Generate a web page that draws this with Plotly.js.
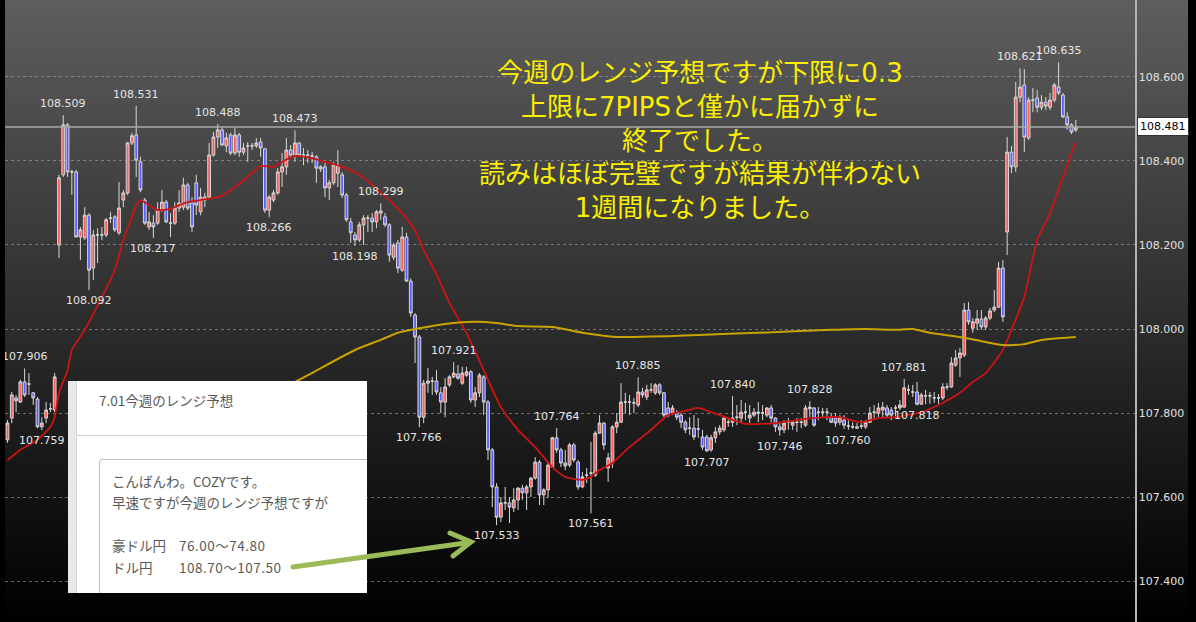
<!DOCTYPE html>
<html>
<head>
<meta charset="utf-8">
<script src="https://cdn.plot.ly/plotly-3.0.1.min.js"></script>
<style>
  html, body { margin:0; padding:0; background:#000; width:1196px; height:622px; overflow:hidden; }
  #bg { position:absolute; left:5px; top:0; width:1183px; height:622px; background:linear-gradient(to bottom, #5e5e5e 0%, #2e2e2e 50%, #000 100%); }
  #chart { position:absolute; left:0; top:0; width:1196px; height:622px; }
  #leftstrip { position:absolute; left:0; top:0; width:5px; height:622px; background:#000; z-index:5; }
  #inset { position:absolute; left:68px; top:381px; width:299px; height:212px; background:#fff; overflow:hidden; z-index:6;
           font-family:"Noto Sans CJK JP","Noto Sans",sans-serif; color:#595959; font-size:13.5px; }
  #inset .ln { position:absolute; line-height:20px; white-space:nowrap; }
  #arrow { position:absolute; left:0; top:0; z-index:7; pointer-events:none; }
</style>
</head>
<body>
<div id="bg"></div>
<div id="chart"></div>
<div id="leftstrip"></div>
<div id="inset">
  <div style="position:absolute;left:0;top:0;width:8px;height:212px;background:#e9e9e9;border-right:1px solid #d6d6d6;"></div>
  <div class="ln" style="left:31px;top:9px;">7.01今週のレンジ予想</div>
  <div style="position:absolute;left:9px;top:54px;width:290px;height:1px;background:#d2d2d2;"></div>
  <div style="position:absolute;left:31px;top:78px;width:300px;height:200px;border:1px solid #bdbdbd;border-radius:3px;"></div>
  <div class="ln" style="left:44px;top:90px;">こんばんわ。COZYです。</div>
  <div class="ln" style="left:44px;top:111px;">早速ですが今週のレンジ予想ですが</div>
  <div class="ln" style="left:44px;top:154px;">豪ドル円</div>
  <div class="ln" style="left:111px;top:154px;letter-spacing:0.5px;">76.00～74.80</div>
  <div class="ln" style="left:44px;top:176px;">ドル円</div>
  <div class="ln" style="left:111px;top:176px;letter-spacing:0.5px;">108.70～107.50</div>
</div>
<svg id="arrow" width="1196" height="622">
  <line x1="293" y1="567" x2="469" y2="542.5" stroke="#9bbb59" stroke-width="5" stroke-linecap="round"/>
  <polyline points="450,533 471,542 453,556" fill="none" stroke="#9bbb59" stroke-width="5" stroke-linecap="round" stroke-linejoin="miter"/>
</svg>
<script>
// ---- data (USD/JPY 30-min candles) ----
const open = [
107.736,107.788,107.836,107.826,107.874,107.869,107.848,107.833,107.767,107.788,107.810,107.807,
108.200,108.367,108.486,108.374,108.374,108.219,108.217,108.271,108.145,108.224,108.224,108.224,108.264,108.267,108.229,108.307,108.324,108.443,
108.462,108.398,108.307,108.243,108.252,108.252,108.283,108.302,108.252,108.252,108.288,108.290,108.343,108.300,108.348,108.279,108.307,108.314,108.414,108.457,
108.474,108.436,108.462,108.419,108.462,108.421,108.436,108.436,108.436,108.445,108.429,108.283,108.307,108.324,108.374,108.386,108.426,108.414,108.443,108.414,
108.414,108.412,108.410,108.381,108.386,108.336,108.348,108.371,108.367,108.319,108.255,108.224,108.212,108.248,108.264,108.264,108.255,108.276,108.267,108.248,
108.171,108.205,108.140,108.219,108.114,108.033,107.981,107.790,107.871,107.876,107.876,107.848,107.826,107.867,107.886,107.893,107.871,107.890,107.898,107.831,
107.848,107.886,107.826,107.712,107.624,107.552,107.586,107.586,107.574,107.593,107.621,107.610,107.624,107.645,107.683,107.605,107.617,107.671,107.741,107.712,
107.681,107.676,107.724,107.683,107.624,107.652,107.657,107.652,107.752,107.776,107.669,107.681,107.767,107.778,107.826,107.826,107.824,107.819,107.850,107.838,
107.855,107.848,107.867,107.848,107.812,107.800,107.800,107.795,107.778,107.764,107.764,107.762,107.743,107.743,107.712,107.741,107.755,107.760,107.778,107.778,
107.790,107.788,107.802,107.788,107.795,107.802,107.800,107.795,107.812,107.788,107.767,107.760,107.778,107.771,107.778,107.778,107.771,107.810,107.812,107.802,
107.802,107.802,107.790,107.788,107.778,107.783,107.769,107.767,107.767,107.769,107.767,107.778,107.802,107.800,107.807,107.812,107.807,107.812,107.812,107.814,
107.855,107.850,107.850,107.821,107.841,107.841,107.836,107.836,107.836,107.862,107.862,107.914,107.931,107.938,108.045,108.002,108.014,108.024,108.005,108.026,
108.045,108.052,108.145,108.231,108.421,108.386,108.552,108.581,108.455,108.545,108.550,108.528,108.540,108.528,108.545,108.576,108.557,108.505,108.486,108.474];
const high = [
107.783,107.850,107.843,107.879,107.906,107.895,107.850,107.838,107.790,107.826,107.824,107.895,
108.367,108.509,108.490,108.379,108.379,108.243,108.290,108.276,108.236,108.240,108.243,108.264,108.279,108.271,108.350,108.331,108.445,108.467,
108.531,108.410,108.312,108.279,108.271,108.302,108.331,108.307,108.276,108.302,108.331,108.360,108.348,108.314,108.367,108.336,108.324,108.443,108.469,108.488,
108.481,108.467,108.467,108.481,108.467,108.443,108.445,108.443,108.455,108.455,108.431,108.319,108.331,108.383,108.419,108.455,108.438,108.473,108.445,108.431,
108.426,108.421,108.414,108.390,108.395,108.355,108.398,108.426,108.374,108.324,108.264,108.231,108.255,108.271,108.271,108.276,108.283,108.299,108.276,108.252,
108.205,108.212,108.243,108.229,108.121,108.038,107.986,107.879,107.907,107.886,107.902,107.862,107.883,107.890,107.921,107.914,107.910,107.910,107.902,107.862,
107.895,107.890,107.831,107.717,107.633,107.600,107.624,107.600,107.621,107.624,107.629,107.629,107.648,107.695,107.688,107.621,107.683,107.743,107.764,107.717,
107.712,107.729,107.729,107.688,107.660,107.669,107.731,107.757,107.795,107.778,107.705,107.771,107.800,107.871,107.848,107.843,107.836,107.885,107.860,107.867,
107.871,107.871,107.871,107.850,107.826,107.819,107.807,107.800,107.783,107.790,107.795,107.788,107.760,107.748,107.748,107.767,107.771,107.790,107.788,107.840,
107.819,107.831,107.824,107.819,107.812,107.826,107.819,107.814,107.819,107.790,107.778,107.783,107.788,107.783,107.788,107.788,107.819,107.828,107.814,107.814,
107.812,107.812,107.800,107.800,107.795,107.795,107.783,107.778,107.776,107.783,107.783,107.814,107.819,107.824,107.826,107.819,107.814,107.819,107.831,107.881,
107.867,107.867,107.874,107.848,107.855,107.850,107.850,107.845,107.871,107.871,107.933,107.950,107.955,108.062,108.064,108.026,108.045,108.045,108.031,108.050,
108.093,108.160,108.164,108.457,108.436,108.588,108.621,108.619,108.552,108.574,108.569,108.557,108.552,108.562,108.586,108.635,108.562,108.516,108.490,108.498];
const low = [
107.729,107.776,107.802,107.824,107.838,107.843,107.819,107.764,107.759,107.776,107.802,107.802,
108.169,108.362,108.362,108.319,108.220,108.164,108.212,108.092,108.117,108.157,108.212,108.219,108.252,108.231,108.224,108.290,108.319,108.438,
108.362,108.326,108.248,108.236,108.217,108.248,108.279,108.252,108.219,108.248,108.279,108.283,108.283,108.231,108.271,108.271,108.290,108.312,108.410,108.431,
108.436,108.421,108.414,108.414,108.410,108.414,108.398,108.426,108.431,108.410,108.276,108.266,108.302,108.319,108.338,108.367,108.407,108.398,108.410,108.390,
108.395,108.395,108.348,108.374,108.314,108.307,108.343,108.338,108.312,108.255,108.205,108.198,108.207,108.200,108.231,108.231,108.240,108.260,108.243,108.160,
108.164,108.133,108.136,108.112,108.029,107.919,107.766,107.776,107.848,107.843,107.843,107.800,107.790,107.862,107.883,107.879,107.867,107.886,107.824,107.814,
107.838,107.795,107.688,107.576,107.533,107.540,107.569,107.538,107.564,107.569,107.593,107.569,107.600,107.641,107.581,107.581,107.598,107.669,107.705,107.671,
107.664,107.671,107.683,107.617,107.621,107.633,107.561,107.648,107.750,107.712,107.636,107.669,107.752,107.776,107.800,107.795,107.800,107.814,107.836,107.831,
107.848,107.843,107.843,107.790,107.790,107.795,107.783,107.764,107.752,107.748,107.736,107.741,107.712,107.707,107.708,107.729,107.748,107.755,107.767,107.767,
107.771,107.776,107.783,107.776,107.790,107.778,107.783,107.790,107.778,107.755,107.746,107.752,107.760,107.760,107.755,107.764,107.767,107.790,107.767,107.783,
107.788,107.783,107.776,107.767,107.771,107.762,107.760,107.762,107.762,107.762,107.762,107.776,107.783,107.790,107.788,107.788,107.783,107.790,107.807,107.812,
107.843,107.838,107.818,107.820,107.821,107.822,107.824,107.822,107.831,107.855,107.860,107.910,107.886,107.933,108.010,107.991,107.998,107.998,107.998,108.021,
108.040,108.050,108.017,108.176,108.371,108.374,108.540,108.421,108.450,108.516,108.516,108.521,108.521,108.521,108.540,108.557,108.502,108.474,108.464,108.469];
const close = [
107.776,107.843,107.829,107.874,107.843,107.869,107.836,107.767,107.776,107.807,107.810,107.886,
108.360,108.486,108.374,108.374,108.219,108.236,108.271,108.140,108.224,108.224,108.224,108.260,108.264,108.236,108.288,108.324,108.443,108.460,
108.402,108.331,108.252,108.255,108.243,108.283,108.302,108.255,108.252,108.288,108.300,108.343,108.288,108.243,108.295,108.314,108.314,108.414,108.457,108.474,
108.438,108.455,108.419,108.462,108.421,108.431,108.436,108.436,108.443,108.431,108.283,108.314,108.324,108.374,108.386,108.426,108.414,108.443,108.414,108.414,
108.414,108.412,108.383,108.386,108.336,108.348,108.390,108.390,108.319,108.260,108.229,108.212,108.248,108.264,108.264,108.255,108.279,108.281,108.248,108.176,
108.200,108.145,108.219,108.114,108.038,107.981,107.790,107.871,107.876,107.876,107.850,107.826,107.862,107.886,107.895,107.883,107.895,107.898,107.831,107.848,
107.890,107.826,107.712,107.624,107.552,107.586,107.586,107.576,107.593,107.621,107.610,107.624,107.645,107.683,107.605,107.617,107.676,107.741,107.712,107.681,
107.674,107.724,107.688,107.624,107.648,107.652,107.657,107.752,107.776,107.724,107.693,107.767,107.778,107.826,107.826,107.826,107.824,107.850,107.843,107.855,
107.855,107.867,107.848,107.795,107.795,107.812,107.790,107.778,107.760,107.764,107.743,107.762,107.719,107.710,107.741,107.755,107.764,107.788,107.778,107.788,
107.790,107.802,107.802,107.795,107.802,107.800,107.800,107.812,107.788,107.767,107.760,107.776,107.778,107.778,107.778,107.778,107.812,107.814,107.771,107.802,
107.802,107.802,107.778,107.776,107.790,107.771,107.769,107.767,107.764,107.769,107.778,107.800,107.802,107.812,107.814,107.795,107.795,107.812,107.819,107.860,
107.855,107.850,107.821,107.843,107.841,107.841,107.836,107.836,107.862,107.862,107.919,107.931,107.943,108.045,108.017,108.017,108.024,108.005,108.026,108.043,
108.052,108.145,108.029,108.421,108.386,108.552,108.576,108.457,108.545,108.545,108.528,108.540,108.531,108.545,108.581,108.562,108.505,108.486,108.469,108.481];

// moving averages (candle index, price)
const redMaIdx = [0,3,7,10,11,12,14,15,18,22,25,27,29,30,31,33,35,38,40,42,45,50,53,56,59,62,64,67,71,74,78,82,85,89,92,95,97,100,103,107,111,115,119,123,127,130,134,136,138,141,145,150,154,158,161,164,168,172,176,179,183,186,191,194,199,203,207,213,217,222,225,228,232,234,237,240,243,246,249];
const redMaVal = [107.688,107.712,107.736,107.767,107.790,107.848,107.902,107.950,107.998,108.076,108.140,108.212,108.267,108.295,108.307,108.295,108.283,108.286,108.295,108.302,108.307,108.317,108.338,108.362,108.388,108.386,108.398,108.412,108.407,108.398,108.386,108.367,108.343,108.307,108.276,108.235,108.188,108.130,108.062,107.990,107.902,107.814,107.760,107.719,107.671,107.648,107.641,107.648,107.664,107.681,107.719,107.760,107.795,107.805,107.812,107.802,107.788,107.774,107.774,107.776,107.781,107.786,107.790,107.790,107.778,107.788,107.790,107.802,107.819,107.848,107.874,107.895,107.950,107.998,108.076,108.212,108.276,108.362,108.445];
const goldMaIdx = [62,65,67,70,81,87,91,95,99,102,109,114,119,127,134,142,146,154,161,175,192,200,207,211,215,223,227,232,237,241,249];
const goldMaVal = [107.855,107.864,107.874,107.890,107.950,107.974,107.991,108.000,108.007,108.012,108.017,108.014,108.007,108.005,107.991,107.981,107.981,107.983,107.986,107.991,107.998,108.000,107.998,108.000,107.991,107.979,107.971,107.962,107.964,107.974,107.981];

// axis ticks
const yTickVals = [107.4, 107.6, 107.8, 108.0, 108.2, 108.4, 108.6];

// high/low labels: candle index and which extreme
const lblIdx  = [13,30,49,67,87,61,34,81,19,4,8,104,96,114,128,136,147,163,169,180,187,196,209,212,236,245];
const lblSide = ['H','H','H','H','H','L','L','L','L','H','L','H','L','L','H','L','H','L','H','L','H','L','H','L','H','H'];

// comment text (yellow)
const noteLines = [
  '今週のレンジ予想ですが下限に0.3',
  '上限に7PIPSと僅かに届かずに',
  '終了でした。',
  '読みはほぼ完璧ですが結果が伴わない',
  '1週間になりました。'
];

// ---- build ----
const idx = open.map((_, i) => i);
const lastClose = close[close.length - 1];

const traces = [
  {
    type: 'candlestick', x: idx, open: open, high: high, low: low, close: close,
    increasing: { line: { color: '#d8d8d8', width: 1 }, fillcolor: '#ff5c5c' },
    decreasing: { line: { color: '#d8d8d8', width: 1 }, fillcolor: '#5c5cff' },
    whiskerwidth: 0, hoverinfo: 'skip'
  },
  { type: 'scatter', mode: 'lines', x: redMaIdx, y: redMaVal,
    line: { color: '#cc1414', width: 1.8, shape: 'spline', smoothing: 0.6 }, hoverinfo: 'skip' },
  { type: 'scatter', mode: 'lines', x: goldMaIdx, y: goldMaVal,
    line: { color: '#c9a400', width: 2, shape: 'spline', smoothing: 0.6 }, hoverinfo: 'skip' }
];

const annotations = [];
lblIdx.forEach((k, j) => {
  const isHigh = lblSide[j] === 'H';
  const v = isHigh ? high[k] : low[k];
  annotations.push({
    x: k, y: v, xref: 'x', yref: 'y', text: v.toFixed(3), showarrow: false,
    yanchor: isHigh ? 'bottom' : 'top', yshift: isHigh ? 3 : -2,
    font: { family: 'DejaVu Sans', size: 11, color: '#e6e6e6' }
  });
});
annotations.push({
  xref: 'paper', yref: 'paper', x: 0.615, y: 0.7749, xanchor: 'center', yanchor: 'middle',
  align: 'center', text: noteLines.join('<br>'), showarrow: false,
  font: { family: '"DejaVu Sans", "Noto Sans CJK JP"', size: 26, color: '#fbee00' }
});
annotations.push({
  xref: 'paper', x: 1, xanchor: 'left', xshift: 2, yref: 'y', y: lastClose, yanchor: 'middle',
  text: lastClose.toFixed(3), showarrow: false, bgcolor: '#ffffff', bordercolor: '#333333',
  borderwidth: 1, borderpad: 2, font: { family: 'DejaVu Sans', size: 11, color: '#000000' }
});

const layout = {
  width: 1196, height: 622,
  margin: { l: 5, r: 61, t: 0, b: 0, pad: 0 },
  paper_bgcolor: 'rgba(0,0,0,0)', plot_bgcolor: 'rgba(0,0,0,0)',
  showlegend: false,
  boxgap: 0.08,
  xaxis: { range: [-0.58, 262.8], visible: false, rangeslider: { visible: false }, fixedrange: true },
  yaxis: {
    range: [107.3024, 108.7833], side: 'right', tickvals: yTickVals, tickformat: '.3f',
    showgrid: true, gridcolor: 'rgba(175,175,175,0.55)', griddash: '3px,3px', gridwidth: 1,
    zeroline: false, showline: true, linecolor: '#b4b4b4', linewidth: 1.5, ticks: '',
    tickfont: { family: 'DejaVu Sans', size: 11, color: '#e0e0e0' }, fixedrange: true
  },
  shapes: [
    { type: 'line', xref: 'paper', x0: 0, x1: 1, yref: 'y', y0: lastClose, y1: lastClose,
      line: { color: '#a8a8a8', width: 1.5 } }
  ],
  annotations: annotations
};

Plotly.newPlot('chart', traces, layout, { displayModeBar: false, staticPlot: true });
</script>
</body>
</html>
